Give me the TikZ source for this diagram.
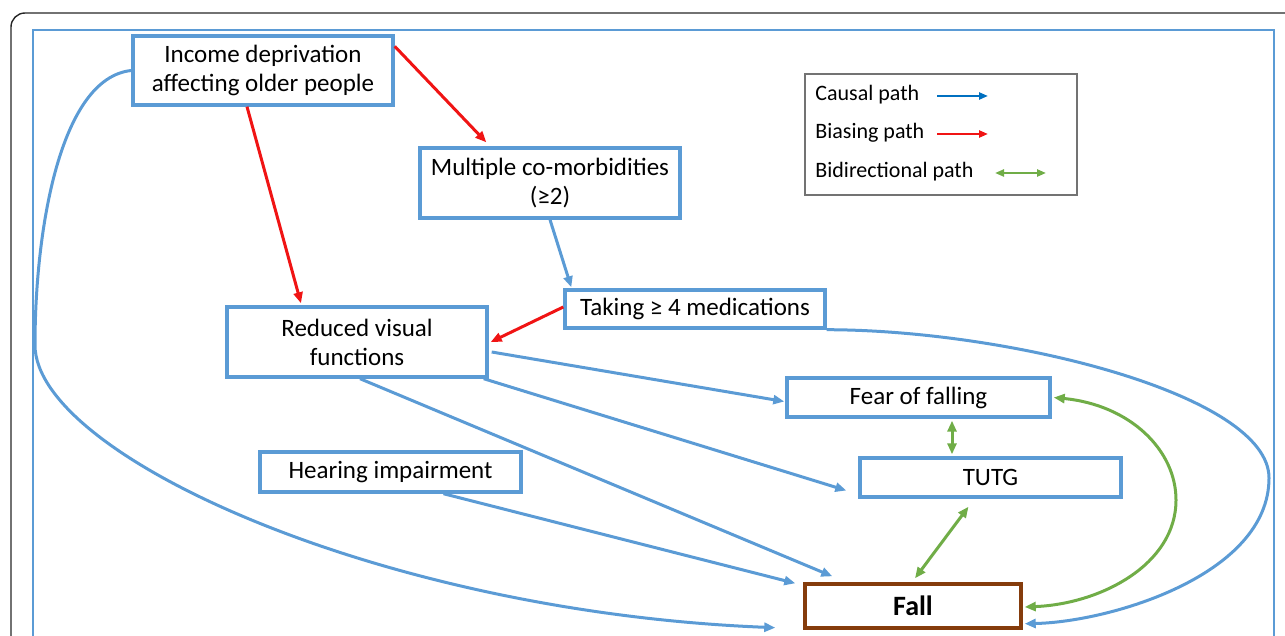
\documentclass[tikz,border=0pt]{standalone}
\usepackage{fontspec}
\setmainfont{Carlito}
\usetikzlibrary{arrows.meta,calc}
\definecolor{cblue}{RGB}{91,155,213}
\definecolor{cdblue}{RGB}{0,112,192}
\definecolor{cred}{RGB}{240,20,20}
\definecolor{cgreen}{RGB}{112,173,71}
\definecolor{cbrown}{RGB}{133,60,12}
\tikzset{
  box/.style={draw=cblue, line width=1.7pt, inner sep=0pt, align=center, font=\fontsize{12.5}{14.5}\selectfont, text=black},
  causal/.style={draw=cblue, line width=1.5pt, -{Triangle[length=5.5pt,width=4.5pt]}},
  biasing/.style={draw=cred, line width=1.5pt, -{Triangle[length=5.5pt,width=4.5pt]}},
  bidir/.style={draw=cgreen, line width=1.5pt, {Triangle[length=5.5pt,width=4.5pt]}-{Triangle[length=5.5pt,width=4.5pt]}},
  legtext/.style={anchor=west, inner sep=0pt, font=\fontsize{11}{13}\selectfont, text=black}
}
\begin{document}
\begin{tikzpicture}[x=0.5pt,y=-0.5pt]
\useasboundingbox (0,0) rectangle (1285,636);
\begin{scope}
\clip (0,0) rectangle (1285,636);
\draw[black!85, line width=0.7pt, rounded corners=7pt] (11,13) rectangle (1320,700);
\draw[cblue, line width=1.2pt] (33,30) rectangle (1274,700);
\end{scope}

% nodes
\node[box, minimum width=130pt, minimum height=34.5pt] (inc) at (263,70.5) {Income deprivation\\affecting older people};
\node[box, minimum width=130pt, minimum height=35pt] (mult) at (550,183) {Multiple co-morbidities\\(≥2)};
\node[box, minimum width=130pt, minimum height=19pt] (take) at (695,309) {Taking ≥ 4 medications};
\node[box, minimum width=130pt, minimum height=35pt] (red) at (357,342) {Reduced visual\\functions};
\node[box, minimum width=131.5pt, minimum height=19.5pt] (fear) at (918.5,397.5) {Fear of falling};
\node[box, minimum width=130.5pt, minimum height=19.5pt] (tutg) at (990.5,477.5) {TUTG};
\node[box, minimum width=130.5pt, minimum height=20pt] (hear) at (390.5,472) {Hearing impairment};
\node[box, draw=cbrown, minimum width=108pt, minimum height=22pt, font=\fontsize{14}{16}\selectfont\bfseries] (fall) at (913,606) {Fall};

% legend
\node[draw=black!55, line width=0.6pt, minimum width=136pt, minimum height=60.5pt, inner sep=0pt] (leg) at (941,134.5) {};
\node[legtext] (l1) at (815,95) {Causal path};
\node[legtext] (l2) at (815,133) {Biasing path};
\node[legtext] (l3) at (815,172) {Bidirectional path};
\coordinate (a1s) at (937,96); \coordinate (a1e) at (988,96);
\coordinate (a2s) at (937,134); \coordinate (a2e) at (988,134);
\coordinate (a3s) at (995,173); \coordinate (a3e) at (1046,173);
\draw[draw=cdblue, line width=1.1pt, -{Triangle[length=4.5pt,width=3.5pt]}] (a1s) -- (a1e);
\draw[draw=cred, line width=1.1pt, -{Triangle[length=4.5pt,width=3.5pt]}] (a2s) -- (a2e);
\draw[draw=cgreen, line width=1.1pt, {Triangle[length=4.5pt,width=3.5pt]}-{Triangle[length=4.5pt,width=3.5pt]}] (a3s) -- (a3e);

% biasing paths
\draw[biasing] ([yshift=-6pt]inc.north east) -- ([xshift=34pt,yshift=2pt]mult.north west);
\draw[biasing] ([xshift=-8pt]inc.south) -- ([xshift=-28pt,yshift=1pt]red.north);
\draw[biasing] ([yshift=1pt]take.west) -- ([xshift=1pt]red.east);

% causal paths
\draw[causal] (mult.south) -- ([xshift=4pt,yshift=0.5pt]take.north west);
\draw[causal] ([xshift=1.5pt,yshift=-5pt]red.east) -- ([xshift=-0.5pt,yshift=-2pt]fear.west);
\draw[causal] ([xshift=-2.5pt]red.south east) -- ([xshift=-6pt,yshift=-6.5pt]tutg.west);
\draw[causal] ([xshift=1.5pt]red.south) -- ([xshift=14.5pt,yshift=3pt]fall.north west);
\draw[causal] ([xshift=26.5pt]hear.south) -- ([xshift=-4pt,yshift=-0.5pt]fall.north west);
\coordinate (lc) at (35,345);
\draw[causal] (inc.west) .. controls (60,78) and (35,230) .. (lc) .. controls (35,455) and (380,612) .. ([xshift=-14pt,yshift=1pt]fall.south west);
\coordinate (rc) at (1269,478);
\draw[causal] (take.south east) .. controls (1010,330) and (1269,395) .. (rc) .. controls (1269,575) and (1110,622) .. ([xshift=1pt,yshift=3pt]fall.south east);

% bidirectional paths
\draw[bidir] ([xshift=16.75pt,yshift=-1pt]fear.south) -- ([xshift=-19.25pt,yshift=1pt]tutg.north);
\draw[bidir] ([xshift=-11pt,yshift=-4pt]tutg.south) -- ([xshift=1pt,yshift=2pt]fall.north);
\coordinate (gc) at (1176,500);
\draw[bidir] ([xshift=1pt]fear.east) .. controls (1130,405) and (1176,450) .. (gc) .. controls (1176,565) and (1100,604) .. ([xshift=1pt,yshift=-0.5pt]fall.east);
\end{tikzpicture}
\end{document}
